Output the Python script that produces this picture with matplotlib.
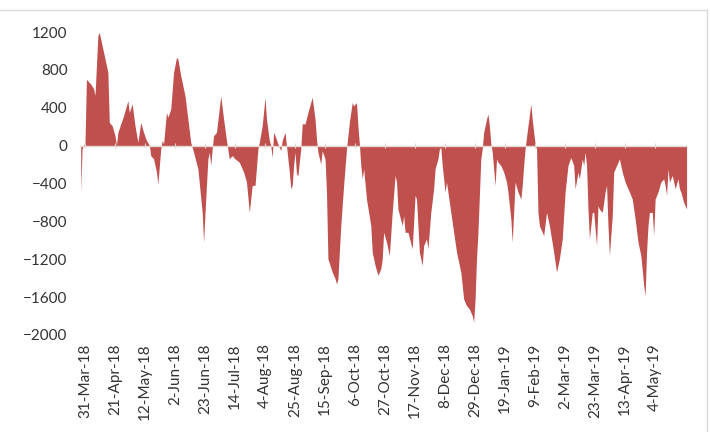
import numpy as np
import matplotlib
matplotlib.use("Agg")
import matplotlib.pyplot as plt
import matplotlib.ticker as mticker
import matplotlib.dates as mdates
from matplotlib.patches import Rectangle

plt.rcParams['font.family'] = ['Lato', 'DejaVu Sans']

# daily spread, days counted from 31-Mar-2018
start = np.datetime64('2018-03-31')
day = [
    -3, -2, 0, 1, 4, 6, 7, 9, 10, 13, 16, 17, 19, 21, 22, 23, 27, 30, 31, 33,
    35, 37, 39, 41, 43, 45, 46, 48, 50, 51, 53, 54, 55, 57, 58, 60, 62, 64, 65, 67,
    70, 72, 74, 76, 79, 82, 83, 84, 86, 87, 88, 89, 90, 92, 95, 97, 99, 101,
    103, 105, 108, 111, 113, 115, 117, 119, 121, 122, 124, 126, 127, 129, 130, 131,
    132, 133, 135, 137, 138, 140, 141, 142, 143, 144, 145, 146, 147, 148, 149, 151,
    152, 154, 156, 159, 161, 162, 163, 165, 166, 168, 169, 170, 173, 175, 176, 177,
    179, 181, 183, 185, 187, 188, 190, 191, 192, 193, 194, 195, 197, 200, 201, 203,
    205, 207, 208,
    209, 211, 213, 215, 217, 218, 219, 222, 223, 224, 226, 229, 230, 231, 232, 234,
    236, 237, 239, 240, 242, 244, 245, 247, 248, 249, 250, 252, 253, 256, 258, 260,
    263, 265, 267, 269, 271, 272, 273, 274, 275, 277, 278, 279, 281, 282, 283, 284,
    285, 286, 287, 288, 289, 291, 293, 295, 296, 298, 299, 300, 301, 303, 305, 306,
    307, 308, 310, 312, 313, 314, 315,
    316, 317, 318, 320, 321, 323, 325, 328, 330, 332, 334, 336, 338, 340, 342, 343,
    345, 346, 348, 349, 350, 351, 352, 353, 355, 356, 358, 359, 360, 362, 364, 365,
    366, 367, 369, 370, 372, 373, 374, 376, 378, 380, 381, 383, 385, 387, 389, 391,
    392, 393, 394, 395, 397, 398, 399, 401, 403, 405, 406, 407, 408, 409, 411, 413,
    415, 416, 417, 419, 421,
]
spread = [
    -490, -30, 30, 700, 650, 600, 530, 1160, 1195, 985, 775, 245, 210, 105, 5, 140, 315, 475, 350, 440,
    210, 35, 245, 140, 55, 5, -105, -140, -280, -405, -35, 55, 20, 350, 300, 385, 775, 930, 915, 740,
    525, 280, 35, -70, -245, -705, -1020, -705, -140, -70, -210, -35, 105, 140, 525, 280, 55, -140,
    -105, -140, -175, -280, -385, -705, -420, -420, -35, 35, 210, 510, 280, 55, 0, -125,
    140, 105, 20, -55, 55, 140, 0, -140, -280, -455, -420, -210, -70, -300, -315, -35,
    230, 230, 350, 510, 280, 70, -70, -195, -55, -140, -490, -1195, -1335, -1405, -1460, -1405,
    -845, -420, -35, 245, 455, 420, 455, 210, 20, -210, -350, -245, -565, -845, -1125, -1265,
    -1370, -1300, -1200,
    -915, -1020, -1160, -705, -315, -385, -670, -845, -740, -915, -915, -1090, -810, -525, -565, -1125,
    -1265, -1055, -985, -1090, -705, -455, -245, -140, -35, -20, -210, -490, -385, -705, -915, -1125,
    -1335, -1620, -1690, -1725, -1795, -1865, -1620, -1195, -915, -140, -35, 140, 280, 335, 210, 20,
    -70, -245, -420, -140, -175, -210, -280, -385, -490, -775, -1020, -705, -385, -490, -565, -420,
    -210, -35, 210, 440, 280, 140, 20,
    -35, -705, -845, -915, -950, -705, -845, -1125, -1335, -1195, -985, -490, -210, -125, -210, -455,
    -280, -350, -140, -210, -70, -210, -670, -985, -705, -705, -1055, -635, -670, -705, -490, -420,
    -845, -1160, -740, -280, -210, -175, -140, -280, -385, -455, -490, -565, -775, -1020, -1160, -1475,
    -1585, -1125, -845, -705, -705, -950, -565, -490, -385, -350, -420, -525, -245, -385, -315, -455,
    -350, -455, -490, -600, -670,
]

tick_step = 21
tick_count = 20

dates = start + np.array(day).astype('timedelta64[D]')
tick_dates = start + (np.arange(tick_count) * tick_step).astype('timedelta64[D]')

fig = plt.figure(figsize=(7.1, 4.32), dpi=100)
ax = fig.add_axes([80 / 710, 1 - 335 / 432, 608 / 710, 303 / 432])

ax.fill_between(dates, spread, 0, color='#C0504D', linewidth=0, zorder=2)

# horizontal axis at zero, drawn over the area
ax.axhline(0, color='#E4D4D3', linewidth=1.0, zorder=3)
ax.vlines(tick_dates, -30, 30, color='#E4D4D3', linewidth=0.8, zorder=3)

ax.set_ylim(-2000, 1200)
ax.set_yticks(np.arange(-2000, 1201, 400))
ax.set_xlim(start - np.timedelta64(84, 'h'), start + np.timedelta64(422 * 24, 'h'))
ax.set_xticks(tick_dates)
ax.xaxis.set_major_formatter(
    mticker.FuncFormatter(lambda v, p: f"{mdates.num2date(v).day}-{mdates.num2date(v):%b-%y}"))

for s in ax.spines.values():
    s.set_visible(False)
ax.tick_params(axis='both', length=0, labelsize=11, colors='#333333')
ax.tick_params(axis='x', rotation=90, pad=6)
ax.tick_params(axis='y', pad=9)

# chart area border
fig.patches.append(Rectangle((-0.01, -0.01), 707 / 710 + 0.01, 1 - 10 / 432 + 0.01,
                             transform=fig.transFigure, fill=False,
                             edgecolor='#D9D9D9', linewidth=1))

fig.savefig('out.png', dpi=100)
